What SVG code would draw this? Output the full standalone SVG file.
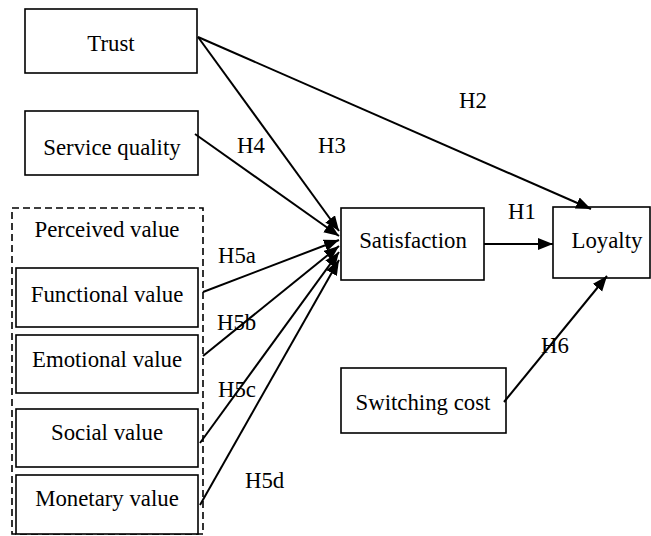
<svg xmlns="http://www.w3.org/2000/svg" width="651" height="536" viewBox="0 0 651 536">
<defs>
<marker id="arr" markerUnits="userSpaceOnUse" markerWidth="16" markerHeight="14" refX="15" refY="6" orient="auto">
<path d="M0,0 L15,6 L0,12 Z" fill="#000"/>
</marker>
<style>
.box{fill:#fff;stroke:#000;stroke-width:1.6}
.dash{fill:none;stroke:#000;stroke-width:1.6;stroke-dasharray:7,4}
text{font-family:'Liberation Serif','Times New Roman',Times,serif;font-size:22.8px;fill:#000}
.t{text-anchor:middle}
.c{stroke:#000;stroke-width:2;fill:none;marker-end:url(#arr)}
</style>
</defs>
<rect x="0" y="0" width="651" height="536" fill="#fff"/>
<g id="perceived-value">
<rect class="dash" x="12" y="208" width="191" height="326"/>
<text class="t" x="107" y="237">Perceived value</text>
</g>
<g id="trust"><rect class="box" x="25" y="9" width="172" height="64"/><text class="t" x="111" y="51">Trust</text></g>
<g id="service-quality"><rect class="box" x="25" y="111" width="173" height="64"/><text class="t" x="112" y="155">Service quality</text></g>
<g id="functional-value"><rect class="box" x="16" y="268" width="182" height="59"/><text class="t" x="107" y="302">Functional value</text></g>
<g id="emotional-value"><rect class="box" x="16" y="335" width="182" height="58"/><text class="t" x="107" y="367">Emotional value</text></g>
<g id="social-value"><rect class="box" x="16" y="409" width="182" height="58"/><text class="t" x="107" y="440">Social value</text></g>
<g id="monetary-value"><rect class="box" x="16" y="475" width="182" height="59"/><text class="t" x="107" y="506">Monetary value</text></g>
<g id="satisfaction"><rect class="box" x="341" y="208" width="143" height="72"/><text class="t" x="413" y="248">Satisfaction</text></g>
<g id="loyalty"><rect class="box" x="553" y="207" width="97" height="71"/><text class="t" x="607" y="248">Loyalty</text></g>
<g id="switching-cost"><rect class="box" x="341" y="368" width="165" height="65"/><text class="t" x="423" y="410">Switching cost</text></g>
<g id="connectors">
<line class="c" x1="198" y1="37" x2="591" y2="209"/>
<line class="c" x1="198" y1="37" x2="339" y2="231"/>
<line class="c" x1="195" y1="134" x2="339" y2="236"/>
<line class="c" x1="203" y1="292" x2="339" y2="240"/>
<line class="c" x1="203" y1="356" x2="339" y2="246"/>
<line class="c" x1="200" y1="443" x2="339" y2="252"/>
<line class="c" x1="200" y1="505" x2="339" y2="260"/>
<line class="c" x1="484" y1="244" x2="553" y2="244"/>
<line class="c" x1="504" y1="402" x2="607" y2="276"/>
</g>
<g id="labels">
<text x="237" y="153">H4</text>
<text x="318" y="153">H3</text>
<text x="459" y="108">H2</text>
<text x="508" y="219">H1</text>
<text x="218" y="263">H5a</text>
<text x="217" y="330">H5b</text>
<text x="218" y="397">H5c</text>
<text x="245" y="488">H5d</text>
<text x="541" y="353">H6</text>
</g>
</svg>
